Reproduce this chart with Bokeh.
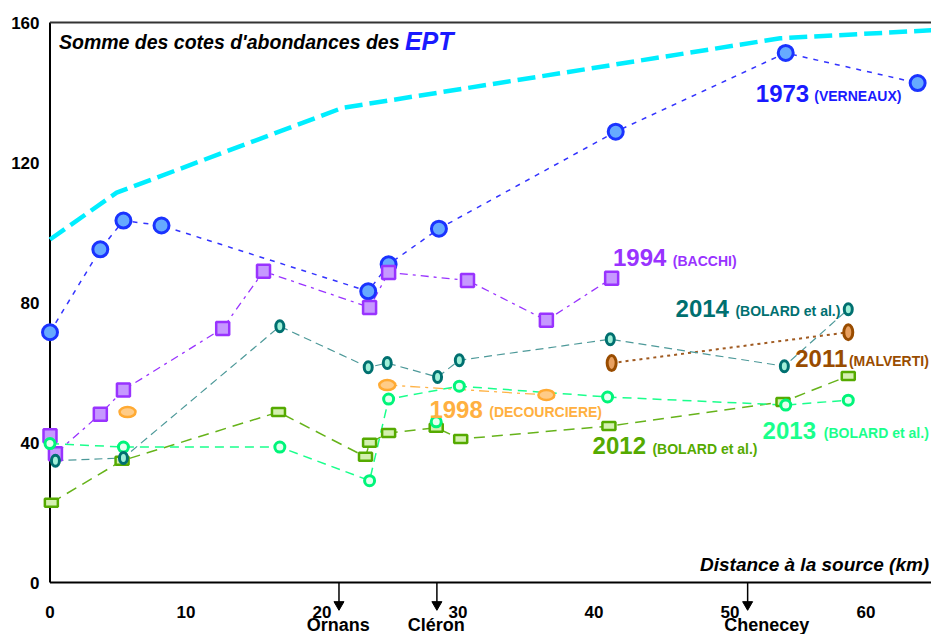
from bokeh.plotting import figure
from bokeh.models import Range1d
from bokeh.core.properties import value
from bokeh.embed import file_html
from bokeh.resources import INLINE

FONT = "Liberation Sans"

# ---- data (distance km, sum of abundance scores) ----
x_ref = [0, 4.9, 21.5, 53.7, 65]
y_ref = [98, 111.4, 135.6, 155.5, 157.8]

x1973 = [0, 3.7, 5.4, 8.2, 23.4, 24.9, 28.6, 41.6, 54.1, 63.8]
y1973 = [71.5, 95.2, 103.4, 102.0, 83.2, 90.9, 101.1, 128.8, 151.3, 142.7]

x1994 = [0, 0.4, 3.7, 5.4, 12.7, 15.7, 23.5, 24.9, 30.7, 36.5, 41.3]
y1994 = [41.9, 36.8, 48.1, 55.0, 72.6, 88.9, 78.6, 88.6, 86.3, 74.9, 86.9]

x1998 = [24.8, 36.5]
y1998 = [56.4, 53.6]
x1998_iso = [5.7]
y1998_iso = [48.7]

x2011 = [41.3, 58.7]
y2011 = [62.7, 71.5]

x2012 = [0.1, 5.3, 16.8, 23.2, 23.5, 24.9, 28.4, 30.2, 41.1, 53.9, 58.7]
y2012 = [22.8, 34.8, 48.7, 35.9, 39.9, 42.7, 44.2, 41.0, 44.7, 51.6, 59.0]

x2013 = [0, 5.4, 16.9, 23.5, 24.9, 30.1, 41.0, 54.1, 58.7]
y2013 = [39.7, 38.7, 38.7, 29.1, 52.4, 56.1, 53.0, 50.7, 52.1]
x2013_iso = [28.4]
y2013_iso = [45.9]

x2014 = [0.4, 5.4, 16.9, 23.4, 24.8, 28.5, 30.1, 41.2, 54.0, 58.7]
y2014 = [34.8, 35.6, 73.2, 61.5, 62.7, 58.7, 63.5, 69.5, 61.8, 78.1]

x_ticks = [0, 10, 20, 30, 40, 50, 60]
y_ticks = [0, 40, 80, 120, 160]

towns = ["Ornans", "Cléron", "Chenecey"]
town_km = [21.25, 28.45, 51.3]
town_label_x = [21.2, 28.4, 52.7]

# series labels: (year text, author text, x year, x author, baseline y, colour)
labels = [
    ("1973", "(VERNEAUX)", 51.9, 56.2, 137.7, "#1a1aff"),
    ("1994", "(BACCHI)", 41.4, 45.8, 90.6, "#9933ff"),
    ("2014", "(BOLARD et al.)", 46.0, 50.4, 76.3, "#007070"),
    ("2011", "(MALVERTI)", 54.8, 58.75, 62.0, "#994c00"),
    ("1998", "(DECOURCIERE)", 27.9, 32.3, 47.4, "#ffb040"),
    ("2012", "(BOLARD et al.)", 39.9, 44.3, 36.9, "#55aa00"),
    ("2013", "(BOLARD et al.)", 52.4, 56.9, 41.4, "#1aff8c"),
]

X0, X1 = -3.64, 64.82
Y0, Y1 = -14.857, 166.286
PX_PER_UNIT = 634 / (Y1 - Y0)


def mid(yb, fs):
    # baseline (data) -> vertical middle of the text box for a font of fs px
    return yb + 0.31 * fs / PX_PER_UNIT


p = figure(width=931, height=634, x_range=Range1d(X0, X1), y_range=Range1d(Y0, Y1),
           output_backend="svg", toolbar_location=None,
           min_border_left=0, min_border_right=0, min_border_top=0, min_border_bottom=0)
p.axis.visible = False
p.outline_line_color = None
p.xgrid.grid_line_color = None
p.ygrid.grid_line_color = None
p.background_fill_color = "white"
p.border_fill_color = "white"

# frame lines (left axis, bottom axis, top border)
p.segment(x0=[0], y0=[0], x1=[0], y1=[y_ticks[-1]], line_color="black", line_width=2)
p.segment(x0=[0], y0=[0], x1=[70], y1=[0], line_color="black", line_width=2)
p.segment(x0=[0], y0=[y_ticks[-1]], x1=[70], y1=[y_ticks[-1]], line_color="#333333", line_width=2)

# tick labels
p.text([-0.77] * len(y_ticks), y_ticks, text=[str(t) for t in y_ticks], text_color="black",
       text_font=value(FONT), text_font_style="bold", text_font_size="17px",
       text_align="right", text_baseline="middle")
p.text(x_ticks, [-8.3] * len(x_ticks), text=[str(t) for t in x_ticks], text_color="black",
       text_font=value(FONT), text_font_style="bold", text_font_size="17px",
       text_align="center", text_baseline="middle")

# towns (arrows + names)
p.segment(x0=town_km, y0=[0] * 3, x1=town_km, y1=[-5.6] * 3, line_color="black", line_width=1.5)
p.scatter(town_km, [-6.3] * 3, marker="inverted_triangle", size=10,
          fill_color="black", line_color="black")
p.text(town_label_x, [mid(-13.71, 18)] * 3, text=towns, text_color="black",
       text_font=value(FONT), text_font_style="bold", text_font_size="18px",
       text_align="center", text_baseline="middle")

# lines
p.line(x_ref, y_ref, line_color="#00eeff", line_width=4.5, line_dash="18 7")
p.line(x1973, y1973, line_color="#3333ff", line_width=1.5, line_dash="5 6")
p.line(x1994, y1994, line_color="#9933ff", line_width=1.3, line_dash="8 5 3 5")
p.line(x1998, y1998, line_color="#ffb347", line_width=1.3, line_dash="10 5 3 5")
p.line(x2011, y2011, line_color="#a05a20", line_width=2, line_dash="3 4")
p.line(x2012, y2012, line_color="#66b31a", line_width=1.5, line_dash="11 7")
p.line(x2013, y2013, line_color="#1aff8c", line_width=1.5, line_dash="9 6")
p.line(x2014, y2014, line_color="#4d9999", line_width=1.2, line_dash="8 5")

# markers
p.scatter(x1973, y1973, marker="circle", size=15, fill_color="#66aaff",
          line_color="#1a33ff", line_width=3)
p.scatter(x1994, y1994, marker="square", size=13, fill_color="#c699ff",
          line_color="#9933ff", line_width=2.5)
p.ellipse(x1998 + x1998_iso, y1998 + y1998_iso, width=16, height=10,
          width_units="screen", height_units="screen",
          fill_color="#ffcc88", line_color="#ffaa33", line_width=2.5)
p.ellipse(x2011, y2011, width=9, height=15, width_units="screen", height_units="screen",
          fill_color="#e8a060", line_color="#994c00", line_width=3)
p.rect(x2012, y2012, width=13, height=8, width_units="screen", height_units="screen",
       fill_color="#d4f0b0", line_color="#55aa00", line_width=2.5)
p.scatter(x2013 + x2013_iso, y2013 + y2013_iso, marker="circle", size=10,
          fill_color="#e6fff0", line_color="#00f57a", line_width=3)
p.ellipse(x2014, y2014, width=8, height=11, width_units="screen", height_units="screen",
          fill_color="#a0f0d8", line_color="#007070", line_width=3)

# series labels
for yr, auth, xy, xa, yb, col in labels:
    p.text([xy], [mid(yb, 24)], text=[yr], text_color=col, text_font=value(FONT),
           text_font_style="bold", text_font_size="24px", text_baseline="middle")
    p.text([xa], [mid(yb, 14)], text=[auth], text_color=col, text_font=value(FONT),
           text_font_style="bold", text_font_size="14px", text_baseline="middle")

# title and axis title
p.text([0.66], [mid(152.57, 19.5)], text=["Somme des cotes d'abondances des"], text_color="black",
       text_font=value(FONT), text_font_style="bold italic", text_font_size="19.5px",
       text_baseline="middle")
p.text([26.1], [mid(152.57, 25)], text=["EPT"], text_color="#1a1aff",
       text_font=value(FONT), text_font_style="bold italic", text_font_size="25px",
       text_baseline="middle")
p.text([64.65], [mid(3.43, 19)], text=["Distance à la source (km)"], text_color="black",
       text_font=value(FONT), text_font_style="bold italic", text_font_size="19px",
       text_baseline="middle", text_align="right")

open("out.html", "w").write(file_html(p, INLINE))
